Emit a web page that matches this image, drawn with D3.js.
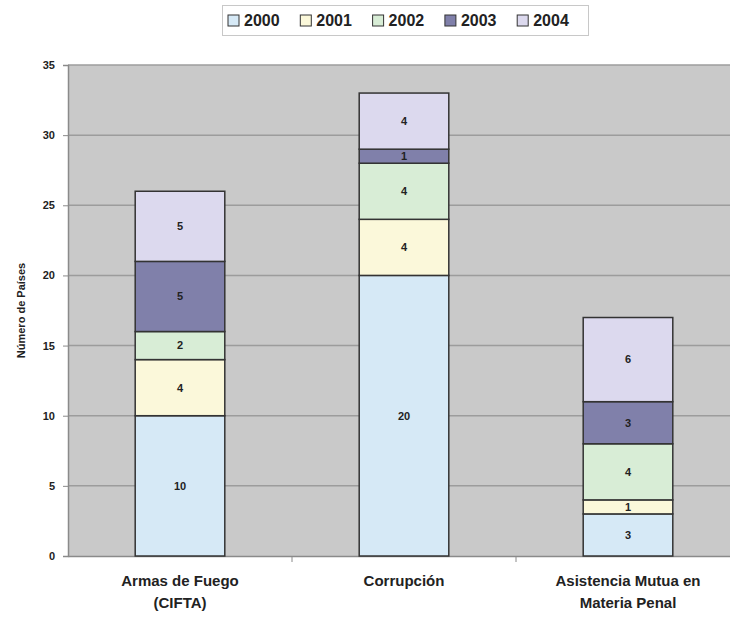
<!DOCTYPE html>
<html><head>
<meta charset="utf-8">
<title>Número de Países</title>
<script src="https://d3js.org/d3.v7.min.js"></script>
<style>
  body { margin: 0; background: #fff; }
  svg text { font-family: "Liberation Sans", Arial, sans-serif; font-weight: bold; fill: #222; }
</style>
</head>
<body>
<div id="container"></div>
<script>
// data
const categories = [["Armas de Fuego", "(CIFTA)"], ["Corrupción"], ["Asistencia Mutua en", "Materia Penal"]];
const years = ["2000", "2001", "2002", "2003", "2004"];
const v2000 = [10, 20, 3];
const v2001 = [4, 4, 1];
const v2002 = [2, 4, 4];
const v2003 = [5, 1, 3];
const v2004 = [5, 4, 6];
const yTicks = [0, 5, 10, 15, 20, 25, 30, 35];
const colors = ["#d6e9f6", "#fbf8da", "#d8edd6", "#8080aa", "#dcd9ee"];

const width = 730, height = 622;
const margin = { top: 65, left: 68, bottom: 66 };
const plotRight = 740; // plot area runs past the right edge in the original

const svg = d3.select("#container").append("svg")
  .attr("width", width).attr("height", height);

const rows = categories.map((c, i) => {
  const r = { key: c.join(" ") };
  [v2000, v2001, v2002, v2003, v2004].forEach((arr, j) => r[years[j]] = arr[i]);
  return r;
});
const stacked = d3.stack().keys(years)(rows);

const xScale = d3.scaleBand().domain(rows.map(d => d.key))
  .range([margin.left, plotRight]).paddingInner(0).paddingOuter(0);
const yScale = d3.scaleLinear().domain([0, 35]).range([height - margin.bottom, margin.top]);
const barW = xScale.bandwidth() * 0.4;

// plot background
svg.append("rect")
  .attr("x", margin.left).attr("y", yScale(35))
  .attr("width", plotRight - margin.left).attr("height", yScale(0) - yScale(35))
  .attr("fill", "#c9c9c9");

// gridlines
svg.append("g").selectAll("line").data(yTicks.filter(t => t > 0)).join("line")
  .attr("x1", margin.left).attr("x2", plotRight)
  .attr("y1", d => yScale(d)).attr("y2", d => yScale(d))
  .attr("stroke", "#9c9c9c").attr("stroke-width", 1.5);

// y axis
const yAxis = d3.axisLeft(yScale).tickValues(yTicks).tickSize(5).tickPadding(8);
const yg = svg.append("g").attr("transform", `translate(${margin.left},0)`).call(yAxis);
yg.select(".domain").attr("stroke", "#8a8a8a").attr("stroke-width", 1.5);
yg.selectAll(".tick line").attr("stroke", "#8a8a8a");
yg.selectAll("text").attr("font-size", 11).attr("fill", "#222")
  .style("font-family", "'Liberation Sans', Arial, sans-serif").style("font-weight", "bold");

// x axis
const xAxis = d3.axisBottom(xScale).tickValues([]).tickSizeOuter(0);
const xg = svg.append("g").attr("transform", `translate(0,${yScale(0)})`).call(xAxis);
xg.select(".domain").attr("stroke", "#8a8a8a").attr("stroke-width", 1.5);
xg.selectAll(".cat-tick").data(rows.slice(1)).join("line")
  .attr("x1", d => xScale(d.key)).attr("x2", d => xScale(d.key))
  .attr("y1", 0).attr("y2", 6).attr("stroke", "#8a8a8a");

// category labels
categories.forEach((lines, i) => {
  const cx = xScale(rows[i].key) + xScale.bandwidth() / 2;
  const t = svg.append("text").attr("text-anchor", "middle").attr("font-size", 15);
  lines.forEach((l, k) => t.append("tspan").attr("x", cx).attr("y", 586 + k * 22).text(l));
});

// bars
const layers = svg.append("g").selectAll("g").data(stacked).join("g")
  .attr("fill", (d, i) => colors[i]);
layers.selectAll("rect").data(d => d).join("rect")
  .attr("x", d => xScale(d.data.key) + (xScale.bandwidth() - barW) / 2)
  .attr("y", d => yScale(d[1]))
  .attr("width", barW)
  .attr("height", d => yScale(d[0]) - yScale(d[1]))
  .attr("stroke", "#333").attr("stroke-width", 1.5);

// value labels
layers.selectAll("text").data(d => d).join("text")
  .attr("x", d => xScale(d.data.key) + xScale.bandwidth() / 2)
  .attr("y", d => (yScale(d[0]) + yScale(d[1])) / 2)
  .attr("dy", "0.35em").attr("text-anchor", "middle").attr("font-size", 11)
  .text(d => d[1] - d[0]);

// y title
svg.append("text")
  .attr("transform", `translate(25,${(yScale(0) + yScale(35)) / 2}) rotate(-90)`)
  .attr("text-anchor", "middle").attr("font-size", 11)
  .text("Número de Países");

// legend
const legend = svg.append("g");
legend.append("rect").attr("x", 222.5).attr("y", 5.5).attr("width", 366).attr("height", 30)
  .attr("fill", "#fff").attr("stroke", "#c8c8c8");
const items = legend.selectAll("g").data(years).join("g")
  .attr("transform", (d, i) => `translate(${228 + i * 72.3},15)`);
items.append("rect").attr("width", 11).attr("height", 11)
  .attr("fill", (d, i) => colors[i]).attr("stroke", "#333");
items.append("text").attr("x", 16).attr("y", 5.5).attr("dy", "0.36em")
  .attr("font-size", 16).text(d => d);
</script>
</body>
</html>
